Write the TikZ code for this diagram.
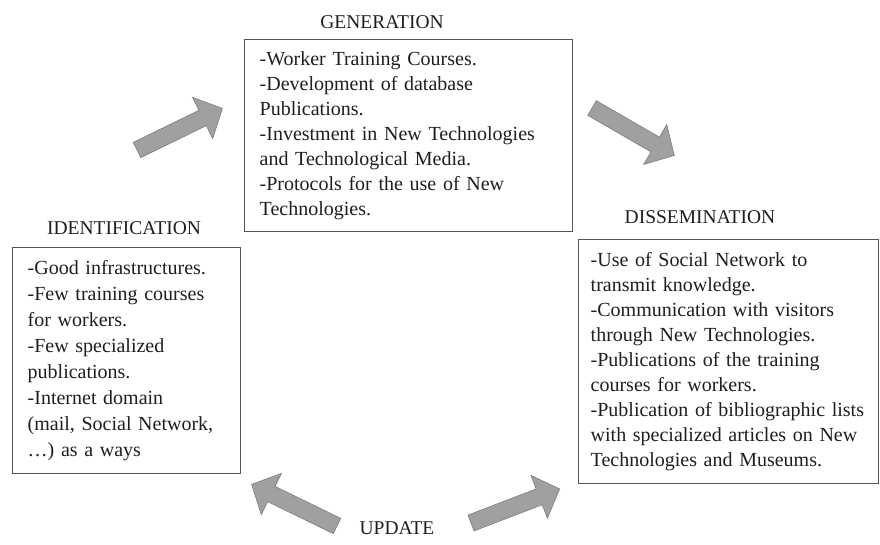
\documentclass[tikz,border=0pt]{standalone}
\usepackage{fontspec}
\setmainfont{Liberation Serif}
\usepackage{tikz}
\definecolor{BoxGray}{RGB}{85,85,85}
\definecolor{ArrowFill}{RGB}{160,160,160}
\definecolor{ArrowLine}{RGB}{125,125,125}
\definecolor{TextGray}{RGB}{30,30,30}
\newcommand{\blockarrow}[2]{%
  \filldraw[blockarr, shift={(#1)}, rotate=#2] (0,-8.5) -- (73,-8.5) -- (73,-23) -- (95,0) -- (73,23) -- (73,8.5) -- (0,8.5) -- cycle;}

\begin{document}
\begin{tikzpicture}[x=1pt, y=-1pt,
    every node/.style={text=TextGray},
    box/.style={draw=BoxGray, line width=1.4pt, anchor=north west, align=left,
      inner xsep=15pt, inner ysep=0pt, font=\fontsize{20}{25}\selectfont},
    title/.style={font=\fontsize{19.5}{24}\selectfont},
    blockarr/.style={fill=ArrowFill, draw=ArrowLine, line width=0.6pt, line join=miter}]
  \useasboundingbox (0,0) rectangle (880,544);
  % stage titles
  \node[title] (genT) at (382,22) {GENERATION};
  \node[title] (idT) at (124,228) {IDENTIFICATION};
  \node[title] (disT) at (700,217) {DISSEMINATION};
  \node[title] (updT) at (397,528) {UPDATE};
  % boxes
  \node[box, text width=298pt, minimum height=192pt] (gen) at (244,39)
    {-Worker Training Courses.\\-Development of database\\Publications.\\-Investment in New Technologies\\and Technological Media.\\-Protocols for the use of New\\Technologies.};
  \node[box, text width=198pt, minimum height=226pt, font=\fontsize{20}{26}\selectfont] (ident) at (12,247)
    {-Good infrastructures.\\-Few training courses\\for workers.\\-Few specialized\\publications.\\-Internet domain\\(mail, Social Network,\\\dots) as a ways};
  \node[box, inner xsep=12pt, text width=276pt, minimum height=244pt] (dissem) at (578,239)
    {-Use of Social Network to\\transmit knowledge.\\-Communication with visitors\\through New Technologies.\\-Publications of the training\\courses for workers.\\-Publication of bibliographic lists\\with specialized articles on New\\Technologies and Museums.};
  % cycle arrows
  \coordinate (a1) at (137,150);
  \coordinate (a2) at (592,108);
  \coordinate (a3) at (337,526);
  \coordinate (a4) at (471,523);
  \blockarrow{a1}{26}
  \blockarrow{a2}{-30}
  \blockarrow{a3}{154}
  \blockarrow{a4}{21}
\end{tikzpicture}
\end{document}
